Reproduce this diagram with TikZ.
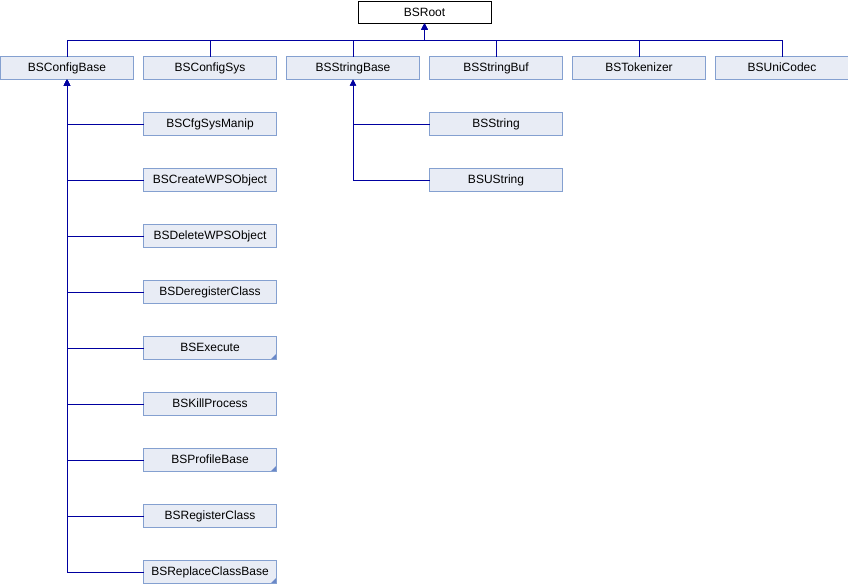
\documentclass[tikz,border=0pt]{standalone}
\usepackage{fontspec}
\setmainfont{Liberation Sans}
\usetikzlibrary{positioning,calc,arrows.meta}
\definecolor{boxfill}{HTML}{E8ECF5}
\definecolor{boxline}{HTML}{84A0D0}
\definecolor{linkcol}{HTML}{0000A0}
\definecolor{cornercol}{HTML}{6A88C8}

\tikzset{
    cls/.style={draw=boxline, fill=boxfill, line width=1pt, rectangle, minimum width=133pt, minimum height=23pt, inner sep=0pt, outer sep=0pt, text height=8.6pt, text depth=1pt, font=\fontsize{12}{14}\selectfont},
    more/.style={cls, path picture={\fill[cornercol] (path picture bounding box.south east) -- ++(-6pt,0) -- ++(6pt,6pt) -- cycle;}},
    inherit/.style={draw=linkcol, line width=1pt, -{Triangle[length=6pt,width=6pt]}}
}

\begin{document}
\begin{tikzpicture}[x=1pt, y=1pt, node distance=10pt and 33pt]
    \useasboundingbox (0,0) rectangle (848,-584);
    % Base classes
    \node[cls] (cfgbase) at (67,-68) {BSConfigBase};
    \node[cls, right=10pt of cfgbase] (cfgsys) {BSConfigSys};
    \node[cls, right=10pt of cfgsys] (strbase) {BSStringBase};
    \node[cls, right=10pt of strbase] (strbuf) {BSStringBuf};
    \node[cls, right=10pt of strbuf] (tokenizer) {BSTokenizer};
    \node[cls, right=10pt of tokenizer] (unicodec) {BSUniCodec};
    \node[cls, draw=black, fill=white, minimum height=22pt] (root) at ($(strbase.north)!0.5!(strbuf.north)+(0,44)$) {BSRoot};

    % Derived from BSConfigBase
    \node[cls, below=33pt of cfgsys] (sysmanip) {BSCfgSysManip};
    \node[cls, below=33pt of sysmanip] (createwps) {BSCreateWPSObject};
    \node[cls, below=33pt of createwps] (deletewps) {BSDeleteWPSObject};
    \node[cls, below=33pt of deletewps] (dereg) {BSDeregisterClass};
    \node[more, below=33pt of dereg] (execute) {BSExecute};
    \node[cls, below=33pt of execute] (killproc) {BSKillProcess};
    \node[more, below=33pt of killproc] (profile) {BSProfileBase};
    \node[cls, below=33pt of profile] (reg) {BSRegisterClass};
    \node[more, below=33pt of reg] (replace) {BSReplaceClassBase};

    % Derived from BSStringBase
    \node[cls, below=33pt of strbuf] (string) {BSString};
    \node[cls, below=33pt of string] (ustring) {BSUString};

    % Inheritance
    \coordinate (bus) at ($(root.south)+(0,-17)$);
    \foreach \n in {cfgbase,cfgsys,strbase,strbuf,tokenizer,unicodec}
        \draw[inherit] (\n.north) |- (bus) -- (root.south);
    \foreach \n in {sysmanip,createwps,deletewps,dereg,execute,killproc,profile,reg,replace}
        \draw[inherit] (\n.west) -| (cfgbase.south);
    \foreach \n in {string,ustring}
        \draw[inherit] (\n.west) -| (strbase.south);
\end{tikzpicture}
\end{document}
